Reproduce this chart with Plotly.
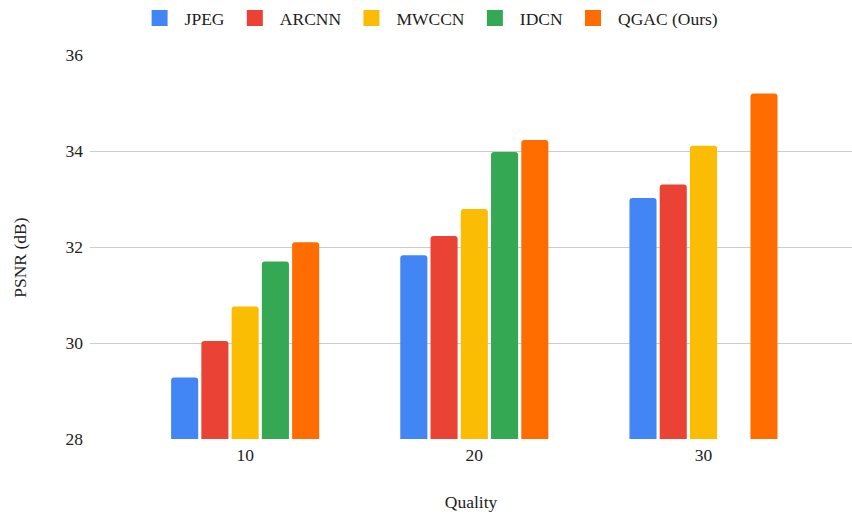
import plotly.graph_objects as go

# JPEG quality levels on the x axis
qualities = ["10", "20", "30"]

# PSNR (dB) per method at each quality level
jpeg = [29.28, 31.83, 33.02]
arcnn = [30.04, 32.23, 33.30]
mwccn = [30.76, 32.79, 34.11]
idcn = [31.70, 33.98, None]
qgac = [32.10, 34.23, 35.20]

y_ticks = [28, 30, 32, 34, 36]

series = [
    ("JPEG", jpeg, "#4285F4"),
    ("ARCNN", arcnn, "#EA4335"),
    ("MWCCN", mwccn, "#FBBC04"),
    ("IDCN", idcn, "#34A853"),
    ("QGAC (Ours)", qgac, "#FF6D01"),
]

font_family = "Liberation Serif"
font_size = 17.5
text_color = "#222222"

fig = go.Figure()
for name, values, color in series:
    fig.add_trace(go.Bar(
        name=name,
        x=qualities,
        y=values,
        base=0,
        legendgroup=name,
        showlegend=False,
        marker=dict(color=color, line=dict(width=0), cornerradius=3),
    ))
    # legend entry with a larger square swatch
    fig.add_trace(go.Scatter(
        name=name,
        x=[None],
        y=[None],
        mode="markers",
        legendgroup=name,
        showlegend=True,
        marker=dict(symbol="square", size=16, color=color),
        hoverinfo="skip",
    ))

fig.update_layout(
    width=852,
    height=515,
    margin=dict(l=90, r=0, t=53, b=76),
    paper_bgcolor="white",
    plot_bgcolor="white",
    font=dict(family=font_family, size=font_size, color=text_color),
    barmode="group",
    bargap=0.34,
    bargroupgap=0.105,
    showlegend=True,
    legend=dict(
        orientation="h",
        x=0.445,
        xanchor="center",
        y=1.096,
        yanchor="middle",
        itemwidth=40,
        font=dict(family=font_family, size=font_size, color=text_color),
    ),
    xaxis=dict(
        type="category",
        range=[-0.677, 2.648],
        showgrid=False,
        showline=False,
        zeroline=False,
        ticks="",
        ticklabelstandoff=3,
        tickfont=dict(family=font_family, size=font_size, color=text_color),
        title=dict(text="Quality", font=dict(family=font_family, size=font_size, color=text_color), standoff=32),
        automargin=False,
    ),
    yaxis=dict(
        range=[28, 36],
        tickvals=y_ticks,
        showgrid=True,
        gridcolor="#CCCCCC",
        gridwidth=1,
        zeroline=False,
        showline=False,
        ticks="",
        ticklabelstandoff=6,
        tickfont=dict(family=font_family, size=font_size, color=text_color),
        automargin=False,
    ),
    annotations=[dict(
        text="PSNR (dB)",
        xref="paper",
        yref="paper",
        x=-70 / 762,
        y=0.472,
        xanchor="center",
        yanchor="middle",
        textangle=-90,
        showarrow=False,
        font=dict(family=font_family, size=font_size, color=text_color),
    )],
)

fig.write_html("out.html")
